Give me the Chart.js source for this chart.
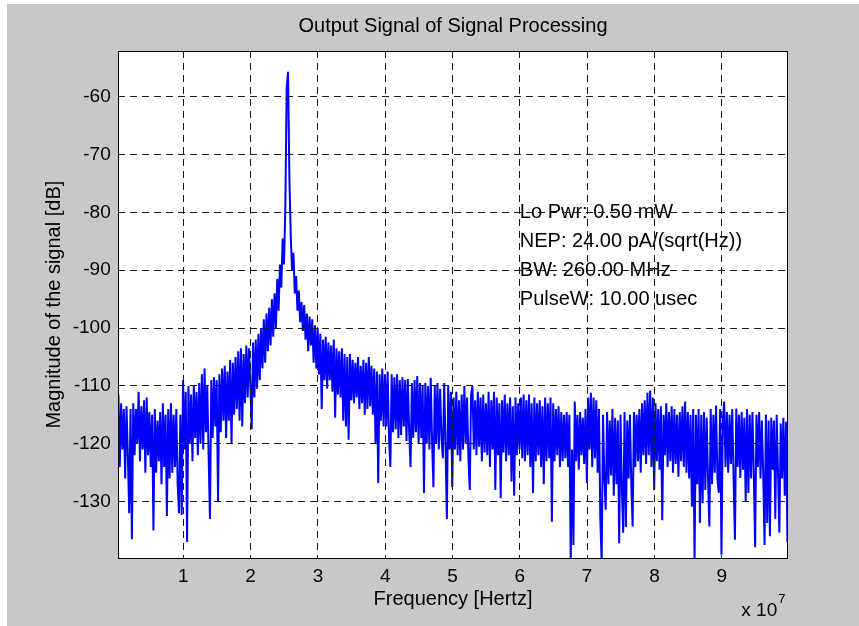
<!DOCTYPE html>
<html>
<head>
<meta charset="utf-8">
<title>Output Signal of Signal Processing</title>
<script src="https://cdn.jsdelivr.net/npm/chart.js@4.4.1/dist/chart.umd.min.js"></script>
<style>
  html, body { margin: 0; padding: 0; background: #ffffff; }
  body { width: 859px; height: 626px; position: relative; overflow: hidden; }
  #plot { position: absolute; left: 7px; top: 4px; background: #c8c8c8; }
</style>
</head>
<body>
<canvas id="plot" width="852" height="622"></canvas>
<script>
// Spectrum of the processed output signal, frequency in units of 1e7 Hz
const FREQ_START = 0.036;
const FREQ_STEP = 0.02;

// Magnitude per frequency bin [dB]
const magnitudeDb = [
  -111.5,-124,-113,-121,-114,-126,-113.5,-122,-132,-114,
  -136.5,-113,-122,-114,-120,-111,-123,-113.5,-121,-112.5,
  -125,-112,-122,-114.5,-124,-115,-135,-114,-125,-116,
  -123,-114.5,-127,-113,-124,-115,-132.5,-114,-126,-113,
  -125,-115,-124,-114,-127,-132,-115,-132.3,-109,-121,
  -111,-137,-110,-120,-111.5,-123,-110,-119,-111,-122,
  -109.5,-120,-108,-121,-107,-118,-110,-122,-133,-109,
  -119,-108.5,-117,-109,-130,-108,-118,-107,-116,-106.5,
  -119,-107.5,-116,-105.5,-120,-106,-115,-105,-114,-104,
  -116,-103.5,-117,-104.5,-113,-103,-112,-103.5,-110,-117.5,
  -102.5,-112,-102,-110.5,-101,-109,-100,-107,-98.5,-106,
  -97.5,-104,-96.5,-103,-95,-101.5,-94,-100,-91.5,-97,
  -89,-93,-84.5,-89,-79,-58.5,-55.7,-74,-84,-90,
  -87,-94,-91,-97,-93.5,-99,-95.5,-100.5,-96,-102,
  -97.5,-104,-98,-103,-98.5,-106,-99.5,-107,-100,-108,
  -101,-114,-102,-109,-101.5,-110.5,-102.5,-109,-103,-111,
  -102,-115.5,-103.5,-111.5,-104,-112,-103.5,-116,-104.5,-117,
  -105,-119.3,-104.5,-112.5,-105.5,-113,-106,-112,-105,-114,
  -106.5,-113,-105.5,-115,-106,-114,-105,-113.5,-106.5,-115,
  -107,-120,-107.5,-126.8,-108,-116,-107,-117,-108,-117,
  -107.5,-119,-124,-108,-118,-108.5,-117.5,-108,-119,-109,
  -118.5,-108.5,-117,-109,-119.5,-108.8,-118,-124,-109.5,-119,
  -109,-118,-108.3,-120,-109.5,-119,-110,-128.5,-109.5,-120,
  -110,-121,-108.6,-119.5,-127.5,-110,-120,-109.5,-121,-110.5,
  -119,-122.5,-109.5,-120,-133,-110,-121,-111,-127.5,-112,
  -121,-111,-122,-112.5,-123,-111.5,-121,-110,-120,-112,
  -122.5,-128,-111.5,-110,-121,-112.5,-122,-111,-120.5,-112,
  -123,-111.5,-121.5,-113,-122,-111,-124,-112.5,-121,-111,
  -128,-112,-122,-113,-129.4,-112.5,-121.5,-111.5,-123,-113,
  -122,-112,-126.5,-113.5,-129,-112,-122,-113,-121,-112,
  -122.5,-111.5,-123,-112.5,-122,-111.5,-124,-113,-128.5,-112,
  -123,-113,-122,-112.5,-124,-113.5,-127,-112,-123,-113,
  -122.5,-112,-133.5,-113,-123,-114,-122,-113.5,-124,-114.5,
  -123,-115,-122.5,-114.5,-124,-115,-140.5,-121,-137.5,-112.7,
  -123,-115,-124.5,-114.5,-122,-115.5,-123.5,-114,-126.8,-112,
  -121,-111.2,-124,-112,-122.5,-112.5,-125,-114,-133,-140.5,
  -115,-126,-131.4,-114.5,-127,-116,-125.5,-114,-129,-115.5,
  -127,-116,-137.2,-115,-128,-135.4,-114.5,-134.4,-116,-126,
  -115,-127,-134.3,-114.5,-124,-115,-123,-114,-125,-113,
  -122,-112.5,-123.5,-111.2,-122,-110.8,-124,-112,-128,-113,
  -123,-114,-124.5,-113.5,-133.2,-115,-122,-113,-124,-114.5,
  -123,-113.5,-125,-114,-123.5,-115,-125.7,-114.5,-123,-113.5,
  -124,-112.7,-125,-114.5,-126,-115,-130.9,-114,-140.5,-115,
  -127,-114,-133.7,-115,-130.3,-114.5,-128,-115.5,-126,-134.3,
  -114,-127,-115,-125,-113.4,-126,-128.5,-114,-139.2,-116,
  -112.7,-124,-114.5,-125,-115,-123.5,-114,-126,-136.6,-113.9,
  -124,-115,-125.9,-114.5,-124.5,-115.5,-130,-114,-128.5,-115,
  -126,-114.5,-125,-137.9,-115,-124,-114.5,-126,-116,-125,
  -137.5,-115,-133.7,-116,-136,-115.5,-124.5,-116,-133,-115,
  -125,-135.4,-116.5,-126,-115.5,-129,-116.2,-137
];

// Axis ticks
const X_TICKS = [1, 2, 3, 4, 5, 6, 7, 8, 9];
const Y_TICKS = [-130, -120, -110, -100, -90, -80, -70, -60];

// Measurement settings printed inside the plot
const NOTE_LINES = [
  'Lo Pwr: 0.50 mW',
  'NEP: 24.00 pA/(sqrt(Hz))',
  'BW: 260.00 MHz',
  'PulseW: 10.00 usec'
];
const NOTE_X = 6;
const NOTE_Y = [-80, -85, -90, -95];

const TITLE = 'Output Signal of Signal Processing';
const FONT = "'Liberation Sans', Arial, Helvetica, sans-serif";

const points = magnitudeDb.map((v, i) => ({ x: FREQ_START + i * FREQ_STEP, y: v }));

const frame = {
  id: 'frame',
  beforeDatasetsDraw(chart) {
    const { ctx, chartArea: a } = chart;
    ctx.save();
    ctx.fillStyle = '#ffffff';
    ctx.fillRect(a.left, a.top, a.right - a.left, a.bottom - a.top);
    ctx.restore();
  },
  afterDatasetsDraw(chart) {
    const { ctx } = chart;
    const xs = chart.scales.x, ys = chart.scales.y;
    ctx.save();
    ctx.fillStyle = '#000000';
    ctx.font = '20px ' + FONT;
    ctx.textAlign = 'left';
    ctx.textBaseline = 'middle';
    NOTE_LINES.forEach((t, k) => {
      ctx.fillText(t, xs.getPixelForValue(NOTE_X), ys.getPixelForValue(NOTE_Y[k]));
    });
    ctx.restore();
  },
  afterDraw(chart) {
    const { ctx, chartArea: a } = chart;
    ctx.save();
    ctx.strokeStyle = '#000000';
    ctx.lineWidth = 1;
    ctx.strokeRect(Math.round(a.left) + 0.5, Math.round(a.top) + 0.5,
                   Math.round(a.right - a.left), Math.round(a.bottom - a.top));
    ctx.fillStyle = '#000000';
    ctx.textBaseline = 'middle';
    // plot title, centred over the axes box
    ctx.textAlign = 'center';
    ctx.font = '20px ' + FONT;
    ctx.fillText(TITLE, (a.left + a.right) / 2, a.top - 24.3);
    // axis multiplier
    ctx.textAlign = 'right';
    ctx.font = '19px ' + FONT;
    ctx.fillText('x 10', a.right - 10.5, a.bottom + 52.2);
    ctx.textAlign = 'left';
    ctx.font = '13px ' + FONT;
    ctx.fillText('7', a.right - 9.5, a.bottom + 41);
    ctx.restore();
  }
};

const gridStyle = { color: '#1a1a1a', lineWidth: 1, drawTicks: false, z: 1 };

new Chart(document.getElementById('plot'), {
  type: 'line',
  data: {
    datasets: [{
      data: points,
      borderColor: '#0000ff',
      borderWidth: 2,
      pointRadius: 0,
      tension: 0,
      fill: false
    }]
  },
  options: {
    responsive: false,
    animation: false,
    devicePixelRatio: 1,
    parsing: false,
    layout: { padding: { left: 0, right: 71.3, top: 47, bottom: 0 } },
    plugins: {
      legend: { display: false },
      tooltip: { enabled: false },
      title: { display: false }
    },
    scales: {
      x: {
        type: 'linear',
        min: 0.034,
        max: 9.98,
        afterBuildTicks: s => { s.ticks = X_TICKS.map(v => ({ value: v })); },
        afterFit: s => { s.height = 67.7; },
        ticks: {
          color: '#000000',
          font: { family: FONT, size: 19 },
          padding: 6.6,
          maxRotation: 0,
          autoSkip: false,
          callback: v => String(v)
        },
        grid: gridStyle,
        border: { display: false, dash: [7, 5] },
        title: {
          display: true,
          text: 'Frequency [Hertz]',
          color: '#000000',
          font: { family: FONT, size: 20 },
          padding: { top: 0, bottom: 14.3 }
        }
      },
      y: {
        type: 'linear',
        min: -139.8,
        max: -52.1,
        afterBuildTicks: s => { s.ticks = Y_TICKS.map(v => ({ value: v })); },
        afterFit: s => { s.width = 111.3; },
        ticks: {
          color: '#000000',
          font: { family: FONT, size: 19 },
          padding: 7.6,
          autoSkip: false,
          callback: v => String(v)
        },
        grid: gridStyle,
        border: { display: false, dash: [7, 5] },
        title: {
          display: true,
          text: 'Magnitude of the signal [dB]',
          color: '#000000',
          font: { family: FONT, size: 20 },
          padding: { top: 35.2, bottom: 0 }
        }
      }
    }
  },
  plugins: [frame]
});
</script>
</body>
</html>
